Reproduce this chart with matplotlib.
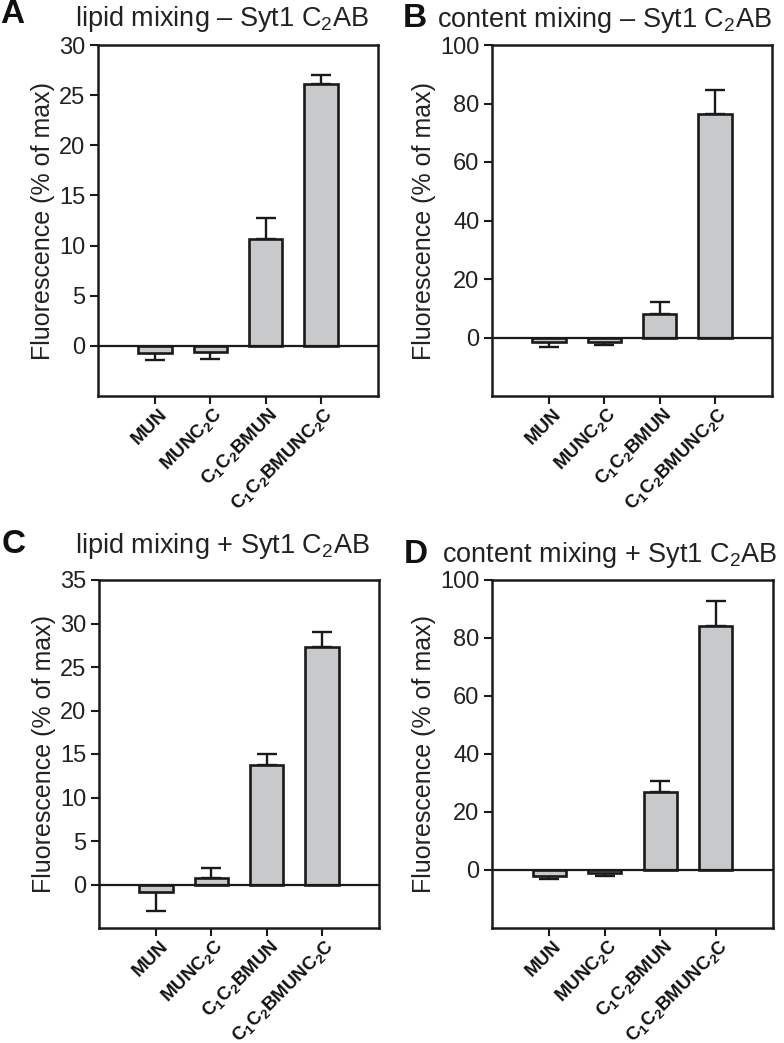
import numpy as np
import matplotlib
matplotlib.use("Agg")
import matplotlib.pyplot as plt
import matplotlib.transforms as mtransforms

plt.rcParams['font.family'] = ['Liberation Sans', 'DejaVu Sans']
plt.rcParams['mathtext.fontset'] = 'custom'
plt.rcParams['mathtext.rm'] = 'Liberation Sans'
plt.rcParams['mathtext.bf'] = 'Liberation Sans:bold'

categories = ['MUN', r'MUNC$_\mathbf{2}$C', r'C$_\mathbf{1}$C$_\mathbf{2}$BMUN',
              r'C$_\mathbf{1}$C$_\mathbf{2}$BMUNC$_\mathbf{2}$C']

letters = ['A', 'B', 'C', 'D']
titles = [r'lipid mixing – Syt1 C$_2$AB', r'content mixing – Syt1 C$_2$AB',
          r'lipid mixing + Syt1 C$_2$AB', r'content mixing + Syt1 C$_2$AB']

vals_a = [-0.7, -0.6, 10.7, 26.1]
err_a = [0.7, 0.7, 2.0, 0.9]
vals_b = [-1.5, -1.5, 8.2, 76.5]
err_b = [1.7, 1.1, 4.0, 8.0]
vals_c = [-0.9, 0.7, 13.7, 27.3]
err_c = [2.2, 1.2, 1.3, 1.7]
vals_d = [-1.9, -1.0, 27.0, 84.2]
err_d = [1.2, 1.0, 3.7, 8.6]

ylims = [(-5, 30), (-20, 100), (-5, 35), (-20, 100)]
yticks = [np.arange(0, 31, 5), np.arange(0, 101, 20), np.arange(0, 36, 5), np.arange(0, 101, 20)]

# layout in pixels
W, H = 784, 1043
boxes = [(98, 45, 378, 396), (492, 45, 772, 396), (99, 580, 379, 928), (492, 580, 773, 928)]
letter_pos = [(0, 23), (403, 27), (2, 553), (404, 563)]
title_pos = [(75, 26), (437, 27), (75, 553), (442, 562)]

fig = plt.figure(figsize=(W / 100, H / 100), dpi=100)
ink = '#1a1a1a'

for k, (vals, errs) in enumerate([(vals_a, err_a), (vals_b, err_b), (vals_c, err_c), (vals_d, err_d)]):
    l, t, r, b = boxes[k]
    ax = fig.add_axes([l / W, (H - b) / H, (r - l) / W, (b - t) / H])
    x = np.arange(len(categories))
    vals = np.array(vals)
    errs = np.array(errs)
    lower = np.where(vals < 0, errs, 0)
    upper = np.where(vals >= 0, errs, 0)
    ax.errorbar(x, vals, yerr=[lower, upper], fmt='none', ecolor=ink,
                elinewidth=1.7, capsize=7, capthick=1.7, zorder=1)
    ax.bar(x, vals, width=0.6, color='#c8c9cb', edgecolor=ink, linewidth=1.9, zorder=2)
    ax.axhline(0, color=ink, lw=1.6, zorder=3)
    ax.set_xlim(-1.03, 4.03)
    ax.set_ylim(*ylims[k])
    ax.set_yticks(yticks[k])
    ax.set_xticks(x)
    ax.set_xticklabels([])
    ax.tick_params(axis='y', labelsize=17, length=6, width=1.5, color=ink, labelcolor='#222', pad=3)
    ax.tick_params(axis='x', length=6, width=1.5, color=ink)
    # rotated category labels, offset from the tick
    trans = mtransforms.blended_transform_factory(ax.transData, ax.transAxes) + \
        mtransforms.ScaledTranslation(10 / 100, -16 / 100, fig.dpi_scale_trans)
    for xi, lab in zip(x, categories):
        ax.text(xi, 0, lab, transform=trans, rotation=45, ha='right', va='center',
                rotation_mode='anchor', fontsize=13.5, fontweight='bold', color='#111')
    for s in ax.spines.values():
        s.set_linewidth(1.8)
        s.set_color(ink)
    ax.set_ylabel('Fluorescence (% of max)', fontsize=18, color='#222', labelpad=3)
    fig.text(letter_pos[k][0] / W, 1 - letter_pos[k][1] / H, letters[k], fontsize=24,
             fontweight='bold', va='baseline', ha='left', color='#111')
    fig.text(title_pos[k][0] / W, 1 - title_pos[k][1] / H, titles[k], fontsize=19.5,
             va='baseline', ha='left', color='#222')

fig.savefig('out.png', dpi=100)
